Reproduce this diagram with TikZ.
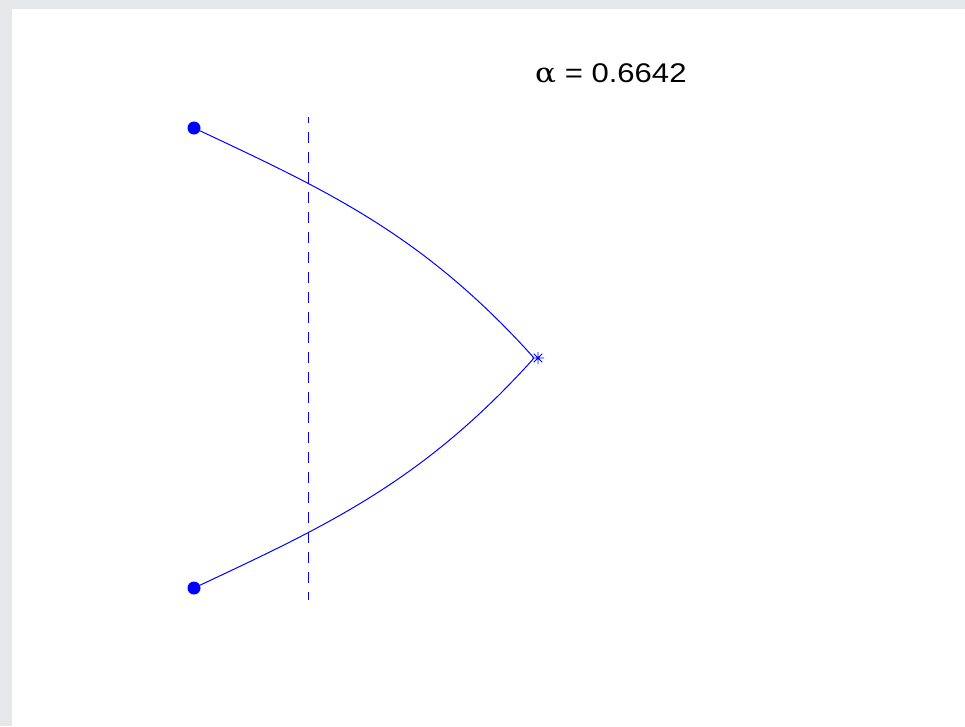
\documentclass[tikz,border=0pt]{standalone}
\usepackage{fontspec}
\usetikzlibrary{calc}
\setmainfont{Liberation Sans}
\newfontfamily\greekserif{DejaVu Serif}
\definecolor{mblue}{RGB}{0,0,255}
\definecolor{bggray}{RGB}{230,231,235}
\begin{document}
\begin{tikzpicture}[x=1pt,y=-1pt,
  curve/.style={mblue,line width=1pt},
  endpt/.style={circle,fill=mblue,inner sep=0pt,minimum size=13pt},
  guide/.style={mblue,line width=1pt,dash pattern=on 11pt off 9pt,dash phase=5pt},
  lbl/.style={font=\fontsize{27}{32}\selectfont,inner sep=0pt,anchor=base west,xscale=1.15,transform shape}]
\useasboundingbox (0,0) rectangle (965,726);
\fill[bggray] (0,0) rectangle (965,726);
\fill[white] (12,9) rectangle (965,726);
% dashed guide line
\coordinate (gtop) at (308,117);
\coordinate (gbot) at (308,600);
\draw[guide] (gtop) -- (gbot);
% end points and tip
\node[endpt] (p1) at (194,128) {};
\node[endpt] (p2) at (194,588) {};
\coordinate (tip) at (533.5,358);
% curve
\draw[curve] (p1.center) .. controls (324,189.1) and (420,232.5) .. (530,353.5)
  .. controls (533.5,357.35) .. (tip)
  .. controls (533.5,358.65) .. (530,362.5)
  .. controls (420,483.5) and (324,526.9) .. (p2.center);
% star marker
\node[inner sep=0pt,minimum size=0pt] (star) at (538,358) {};
\draw[mblue,line width=0.9pt] ($(star)+(-6,0)$) -- ($(star)+(6,0)$)
  ($(star)+(0,-6)$) -- ($(star)+(0,6)$)
  ($(star)+(-4.3,-4.3)$) -- ($(star)+(4.3,4.3)$)
  ($(star)+(-4.3,4.3)$) -- ($(star)+(4.3,-4.3)$);
% label
\node[lbl] (alpha) at (535,82) {{\greekserif α} = 0.6642};
\end{tikzpicture}
\end{document}
